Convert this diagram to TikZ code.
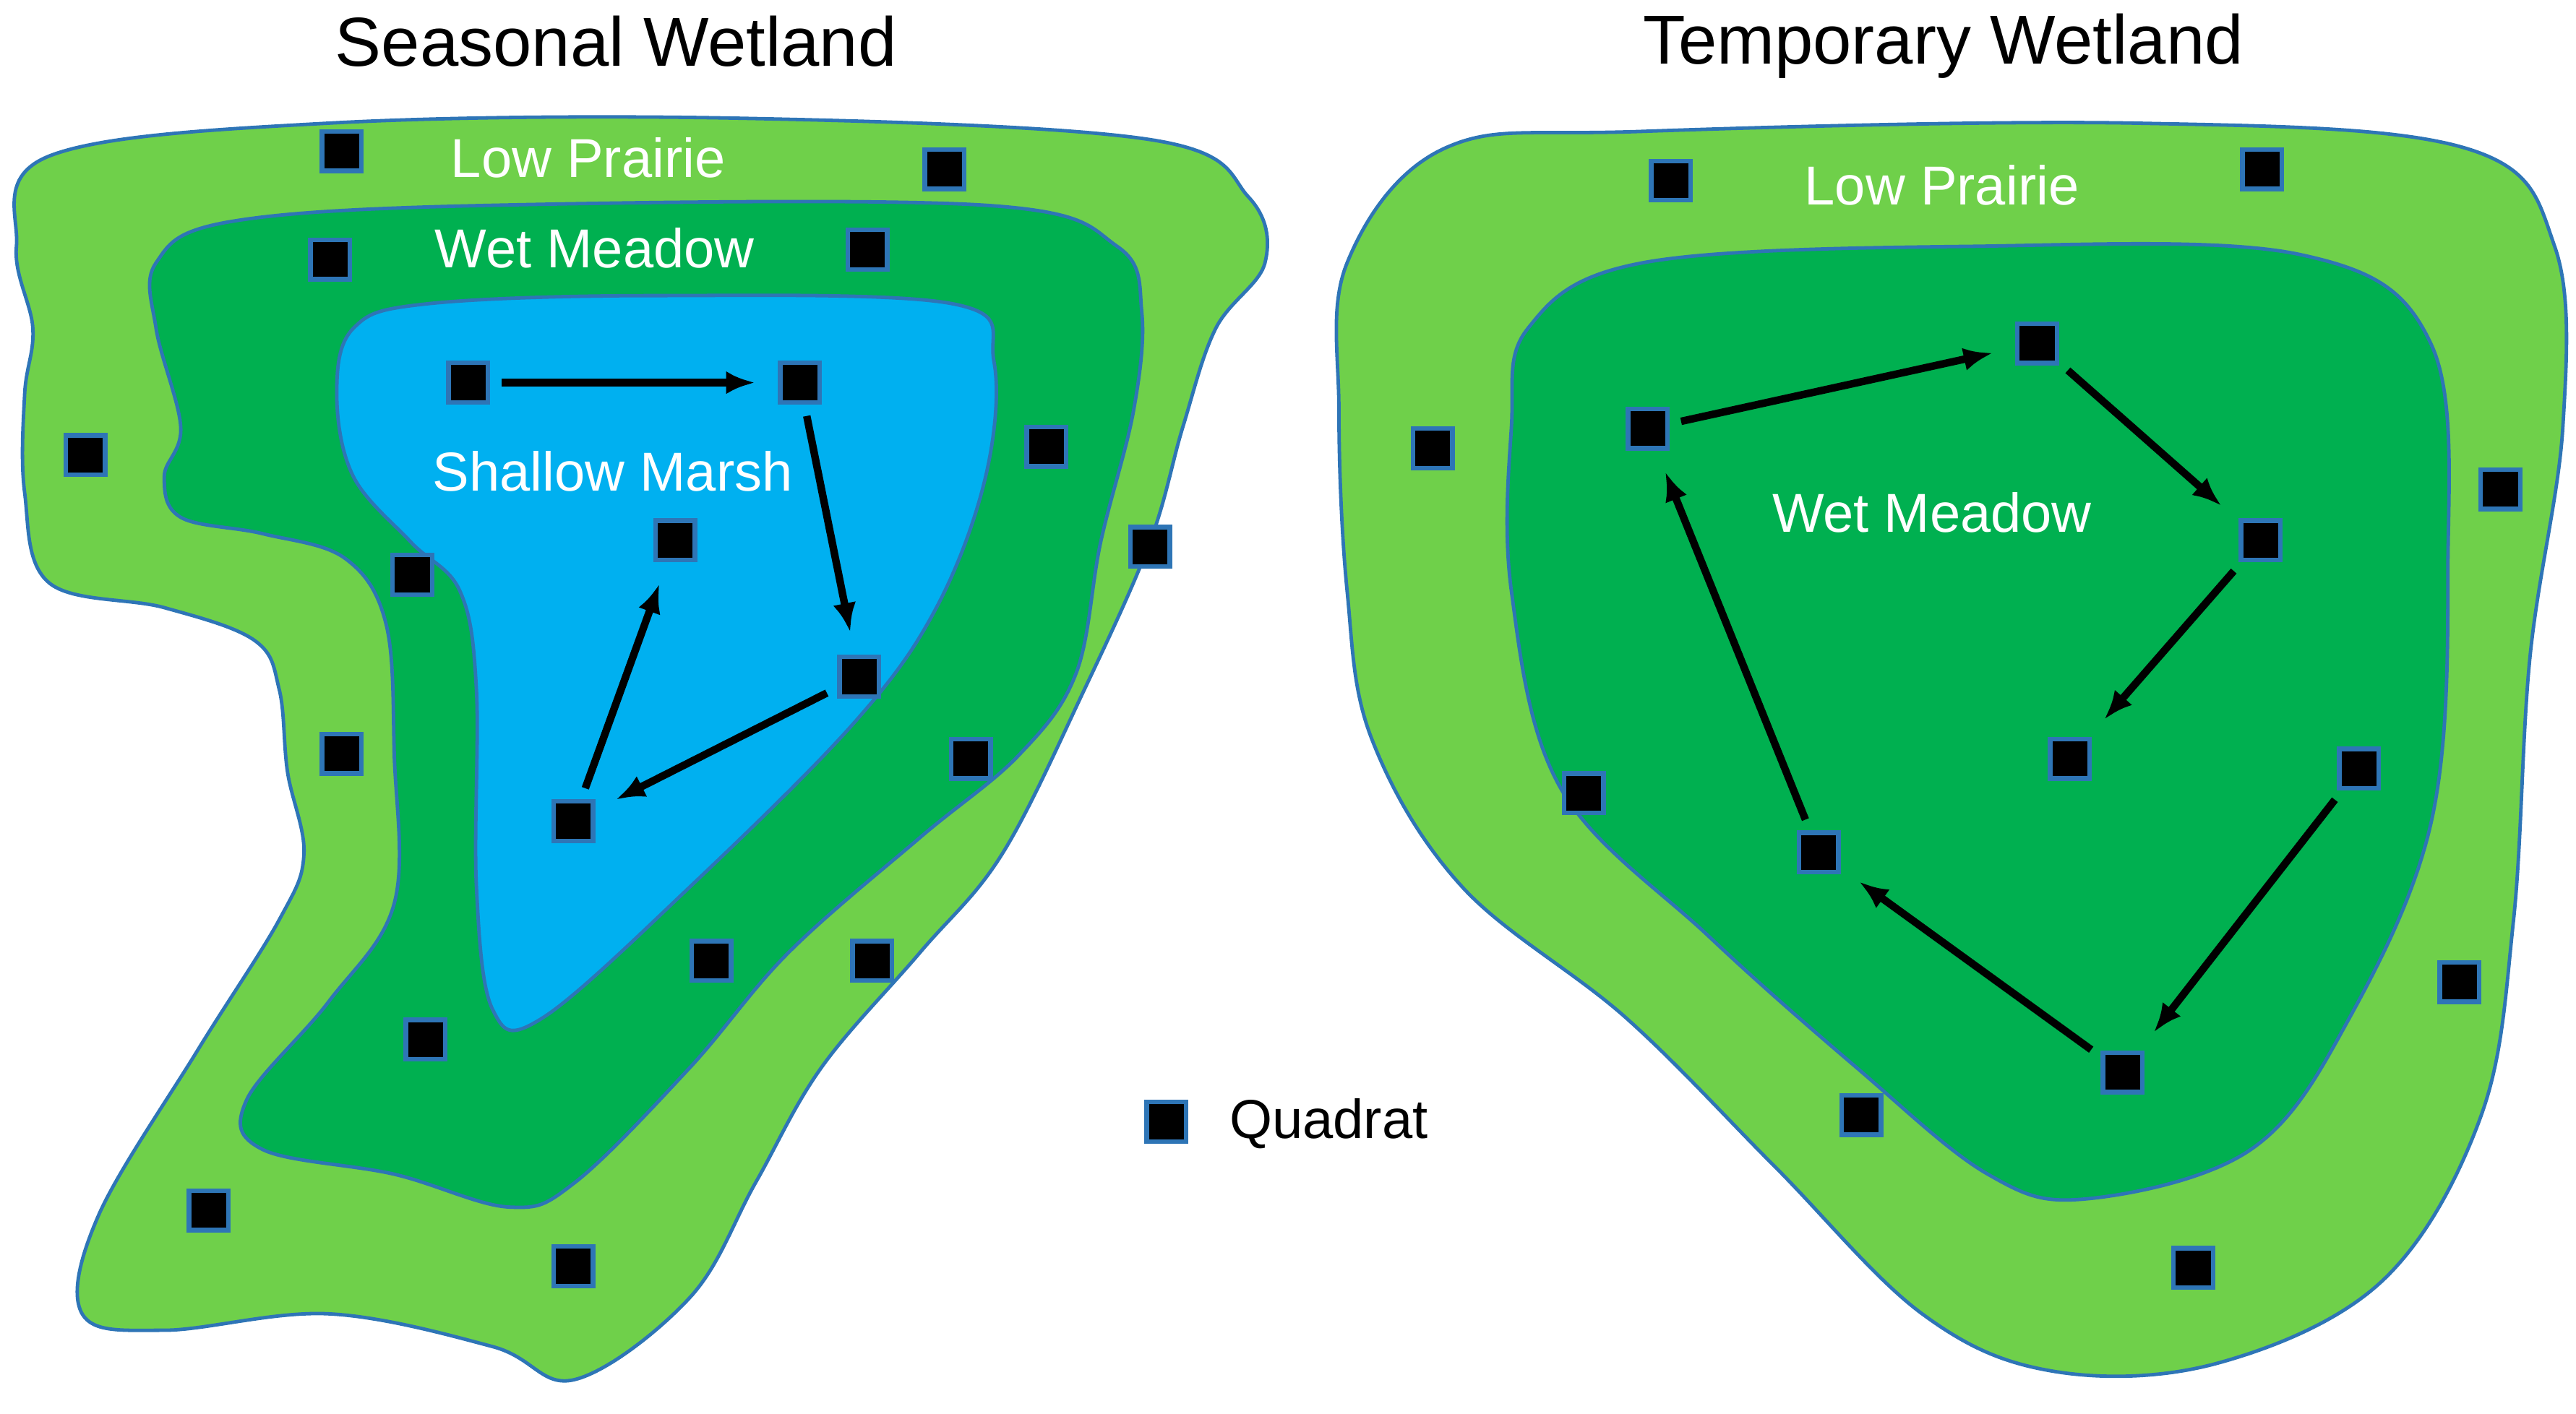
\documentclass[tikz,border=0pt]{standalone}
\usepackage{fontspec}
\setmainfont{Liberation Sans}
\usetikzlibrary{arrows.meta}
\definecolor{lp}{HTML}{6FD04A}
\definecolor{wm}{HTML}{00B050}
\definecolor{sm}{HTML}{00B0F0}
\definecolor{edge}{HTML}{2E75B6}
\begin{document}
\begin{tikzpicture}[x=0.01cm,y=-0.01cm,
  zone/.style={draw=edge,line width=0.6pt},
  q/.style={draw=edge,fill=black,line width=0.8pt,minimum size=0.24cm,inner sep=0pt},
  lab/.style={text=white,font=\fontsize{9.5}{11}\selectfont},
  ttl/.style={font=\fontsize{12}{14}\selectfont},
  arr/.style={-{Latex[length=5pt,width=4pt]},line width=1.3pt,shorten <=2pt,shorten >=4pt}]
\useasboundingbox (0,0) rectangle (1568,861);
% Seasonal
\fill[lp,zone] plot[smooth cycle,tension=0.6] coordinates{(30,95)(200,75)(450,72)(700,85)(760,120)(770,160)(740,200)(720,260)(700,330)(660,420)(610,520)(560,580)(500,650)(460,720)(420,790)(350,840)(300,820)(200,800)(100,810)(50,800)(60,740)(120,640)(170,560)(185,520)(175,470)(170,420)(155,390)(100,370)(30,355)(15,300)(15,240)(20,200)(10,150)};
\fill[wm,zone] plot[smooth cycle,tension=0.6] coordinates{(95,160)(140,135)(300,125)(600,125)(680,150)(695,190)(690,250)(670,330)(655,410)(620,460)(560,510)(480,580)(420,650)(350,720)(310,735)(240,715)(160,700)(150,670)(200,610)(240,550)(240,460)(235,380)(210,340)(160,325)(110,315)(100,290)(110,260)(95,200)};
\fill[sm,zone] plot[smooth cycle,tension=0.6] coordinates{(215,200)(260,185)(400,180)(580,185)(605,220)(600,290)(570,370)(520,440)(420,540)(330,620)(300,615)(290,540)(290,420)(280,360)(250,330)(215,290)(205,240)};
% Temporary
\fill[lp,zone] plot[smooth cycle,tension=0.6] coordinates{(820,160)(880,90)(1000,80)(1300,75)(1500,90)(1555,150)(1560,260)(1540,400)(1530,560)(1510,680)(1450,780)(1350,830)(1250,835)(1170,800)(1080,710)(990,620)(890,540)(835,450)(820,360)(815,250)};
\fill[wm,zone] plot[smooth cycle,tension=0.6] coordinates{(930,200)(1000,160)(1200,150)(1400,155)(1480,210)(1490,350)(1480,500)(1430,620)(1370,700)(1270,730)(1210,715)(1130,650)(1040,570)(950,480)(920,360)(920,260)};
% titles and labels
\node[ttl] (t1) at (375,25) {Seasonal Wetland};
\node[ttl] (t2) at (1183,28) {Temporary Wetland};
\node[lab] (l1) at (358,96) {Low Prairie};
\node[lab] (l2) at (362,151) {Wet Meadow};
\node[lab] (l3) at (373,287) {Shallow Marsh};
\node[lab] (l4) at (1182,113) {Low Prairie};
\node[lab] (l5) at (1176,312) {Wet Meadow};
% quadrats
\foreach \n/\x/\y in {a1/208/92,a2/575/103,a3/201/158,a4/528/152,a5/52/277,a6/637/272,a7/700/333,a8/251/350,a9/208/459,a10/591/462,a11/433/585,a12/531/585,a13/259/633,a14/127/737,a15/349/771,
 m1/285/233,m2/487/233,m3/411/329,m4/523/412,m5/349/500,
 b1/1017/110,b2/1377/103,b3/872/273,b4/1522/298,b5/964/483,b6/1497/598,b7/1133/679,b8/1335/772,
 w1/1003/261,w2/1240/209,w3/1376/329,w4/1260/462,w5/1436/468,w6/1107/519,w7/1292/653,leg/710/683}
  \node[q] (\n) at (\x,\y) {};
\node[anchor=west,font=\fontsize{9.5}{11}\selectfont] (legt) at (736,684) {Quadrat};
% arrows
\draw[arr] (m1) -- (m2);
\draw[arr] (m2) -- (m4);
\draw[arr] (m4) -- (m5);
\draw[arr] (m5) -- (m3);
\draw[arr] (w1) -- (w2);
\draw[arr] (w2) -- (w3);
\draw[arr] (w3) -- (w4);
\draw[arr] (w5) -- (w7);
\draw[arr] (w7) -- (w6);
\draw[arr] (w6) -- (w1);
\end{tikzpicture}
\end{document}
